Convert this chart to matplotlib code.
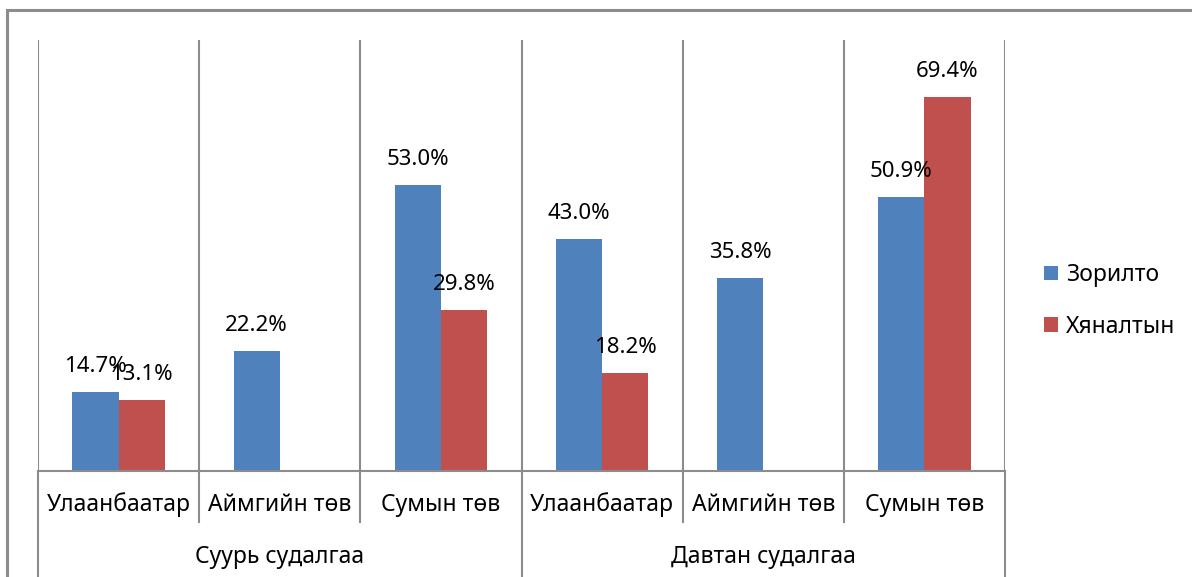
import matplotlib
matplotlib.use("Agg")
import matplotlib.pyplot as plt
import matplotlib.transforms as mtransforms
from matplotlib.patches import Patch, Rectangle
import numpy as np

plt.rcParams['font.family'] = ['Noto Sans', 'DejaVu Sans']

categories = ["Улаанбаатар", "Аймгийн төв", "Сумын төв",
              "Улаанбаатар", "Аймгийн төв", "Сумын төв"]
groups = ["Суурь судалгаа", "Давтан судалгаа"]
group_size = 3
series_names = ["Зорилто", "Хяналтын"]
zorilto = [14.7, 22.2, 53.0, 43.0, 35.8, 50.9]
hyanaltyn = [13.1, np.nan, 29.8, 18.2, np.nan, 69.4]

blue = "#4F81BD"
red = "#C0504D"
grid_c = "#8C8C8C"

W, H = 1192, 577
fig = plt.figure(figsize=(W / 100, H / 100), dpi=100)
ax = fig.add_axes([38 / W, 106 / H, (1005 - 38) / W, (471 - 40) / H])

# outer chart border
fig.patches.append(Rectangle((7 / W, -0.2), 1.5, (577 - 10) / H + 0.2,
                             transform=fig.transFigure, fill=False,
                             edgecolor=grid_c, linewidth=2.2))

x = np.arange(len(categories))
bw = 0.286
vals = [zorilto, hyanaltyn]
cols = [blue, red]
for k, (v, c) in enumerate(zip(vals, cols)):
    off = (k - 0.5) * bw
    ax.bar(x + off, v, width=bw, color=c, zorder=2)
    for xi, yi in zip(x + off, v):
        if np.isnan(yi):
            continue
        ax.annotate(f"{yi:.1f}%", (xi, yi), xytext=(0, 18.5), textcoords="offset points",
                    ha="center", va="center", fontsize=16, color="black", zorder=5)

ax.set_xlim(-0.5, len(categories) - 0.5)
ax.set_ylim(0, 80)
ax.set_yticks([])
for s in ["top", "right", "left"]:
    ax.spines[s].set_visible(False)
ax.spines["bottom"].set_color(grid_c)
ax.spines["bottom"].set_linewidth(1.5)

bounds = np.arange(len(categories) + 1) - 0.5
for b in bounds:
    ax.axvline(b, color=grid_c, linewidth=1.5, zorder=1)

trans = mtransforms.blended_transform_factory(ax.transData, ax.transAxes)
ax_h = (471 - 40)
for i, b in enumerate(bounds):
    long = (i % group_size == 0)
    y0 = -(106 + 5) / ax_h if long else -(522 - 471) / ax_h
    ax.plot([b, b], [0, y0], color=grid_c, linewidth=1.5, transform=trans, clip_on=False)

ax.set_xticks(x)
ax.set_xticklabels([])
for xi, lab in zip(x, categories):
    ax.text(xi, -(505 - 471) / ax_h, lab, transform=trans, ha="center", va="center",
            fontsize=16.5)

for g, name in enumerate(groups):
    cx = g * group_size + (group_size - 1) / 2
    ax.text(cx, -(557 - 471) / ax_h, name, transform=trans, ha="center", va="center",
            fontsize=16.5)
ax.tick_params(axis="x", length=0)

handles = [Patch(facecolor=c) for c in cols]
fig.legend(handles, series_names, loc="center left",
           bbox_to_anchor=(1028 / W, 1 - 301 / H), frameon=False, fontsize=16.5,
           handlelength=0.6, handleheight=0.6, handletextpad=0.35, labelspacing=1.2,
           borderpad=0.2)

fig.savefig("out.png", dpi=100)
